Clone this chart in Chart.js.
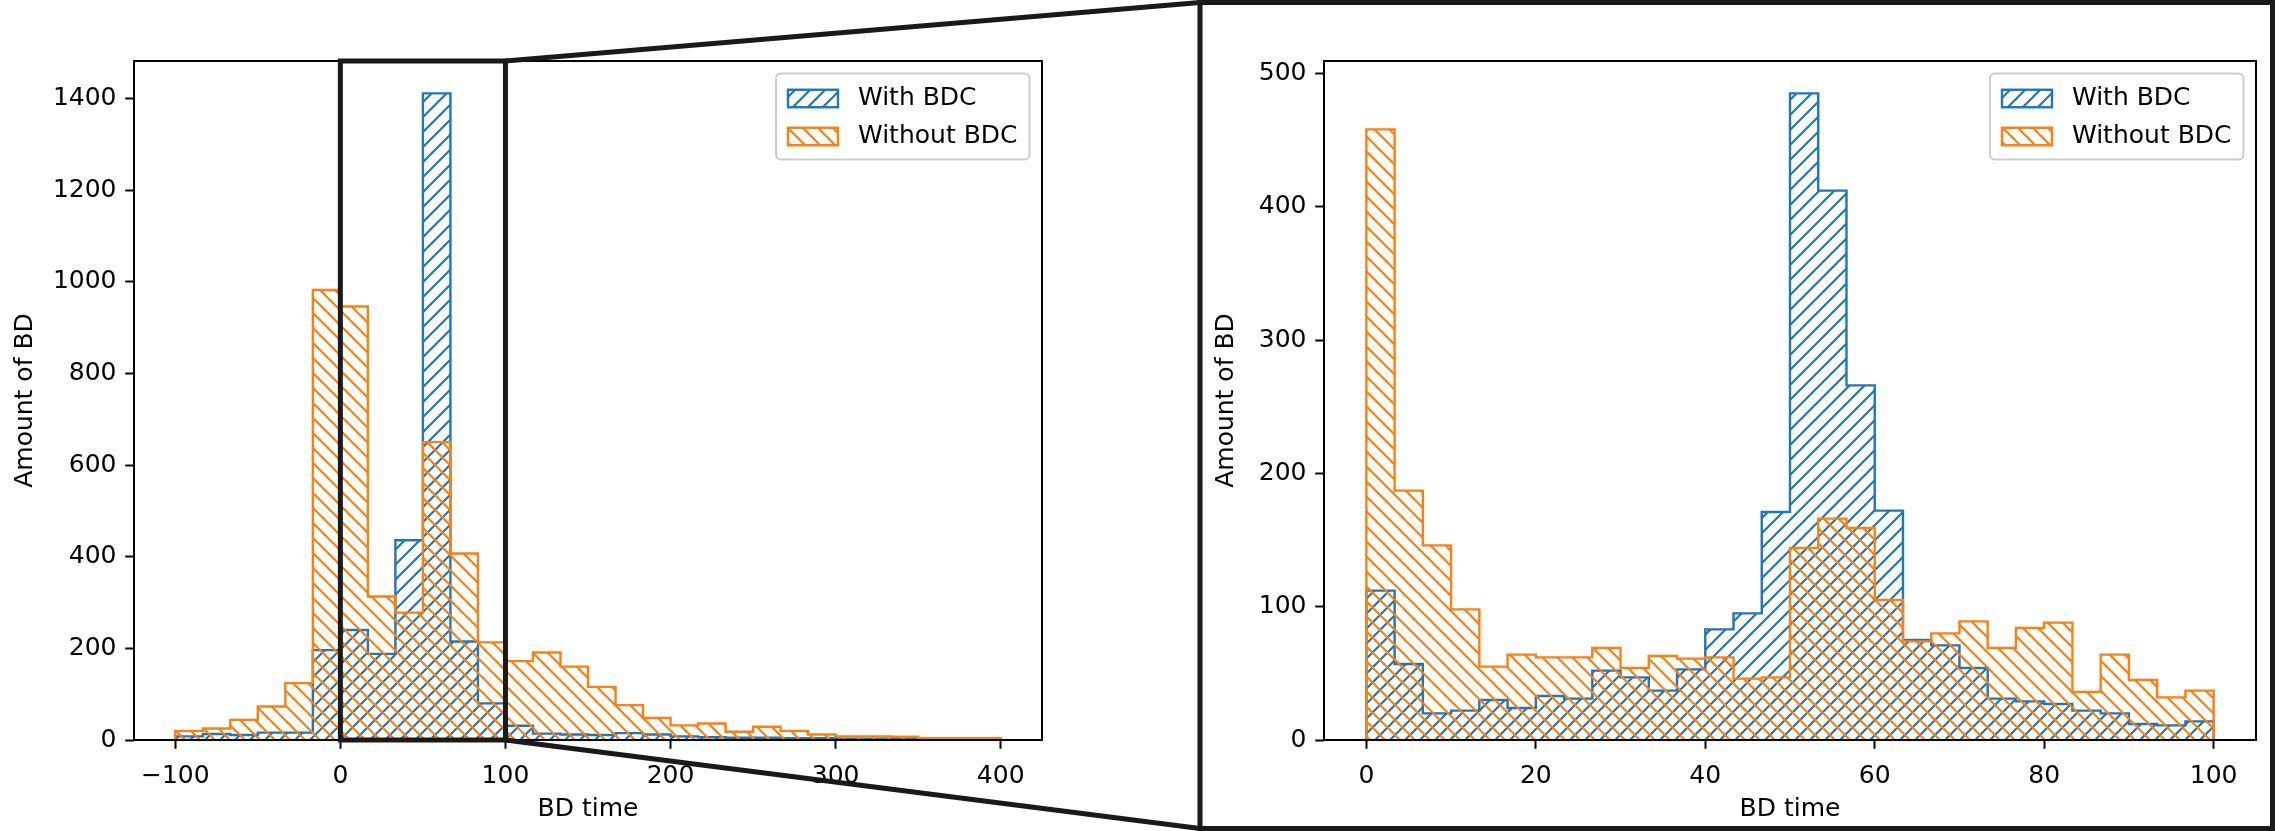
<!DOCTYPE html>
<html>
<head>
<meta charset="utf-8">
<title>BD time histograms</title>
<script src="https://cdn.jsdelivr.net/npm/chart.js@4.4.1/dist/chart.umd.min.js"></script>
<style>
  html, body { margin: 0; padding: 0; background: #ffffff; }
  #wrap { position: relative; width: 2275px; height: 831px; overflow: hidden; background: #ffffff; }
  #wrap canvas { position: absolute; left: 0; top: 0; }
</style>
</head>
<body>
<div id="wrap">
  <canvas id="overview" width="2275" height="831"></canvas>
  <canvas id="detail" width="2275" height="831"></canvas>
</div>
<script>
// ---- Histogram data: breakdown (BD) counts per time bin ----
const seriesLabels = ['With BDC', 'Without BDC'];
const seriesColors = ['#1f77b4', '#ff7f0e'];

// Full range: 30 bins from -100 to 400
const overviewRange = [-100, 400];
const overviewWithBDC = [8, 13, 11, 16, 16, 196, 240, 188, 436, 1411, 215, 80, 31, 14, 12,
                         11, 15, 12, 8, 6, 5, 5, 4, 4, 3, 3, 3, 2, 2, 1];
const overviewWithoutBDC = [20, 25, 44, 73, 124, 982, 946, 313, 278, 650, 407, 213, 172, 191, 160,
                            116, 76, 48, 32, 36, 18, 29, 20, 12, 8, 8, 7, 4, 4, 4];
const overviewXTicks = [-100, 0, 100, 200, 300, 400];
const overviewYTicks = [0, 200, 400, 600, 800, 1000, 1200, 1400];

// Zoomed range: 30 bins from 0 to 100
const detailRange = [0, 100];
const detailWithBDC = [112, 57, 20, 22, 30, 24, 33, 31, 52, 47, 37, 53, 83, 95, 171,
                       485, 412, 266, 172, 75, 71, 54, 31, 29, 27, 22, 20, 12, 11, 14];
const detailWithoutBDC = [458, 187, 146, 98, 55, 64, 62, 62, 69, 54, 63, 61, 62, 46, 47,
                          144, 166, 159, 105, 74, 80, 89, 69, 84, 88, 36, 64, 45, 32, 37];
const detailXTicks = [0, 20, 40, 60, 80, 100];
const detailYTicks = [0, 100, 200, 300, 400, 500];

const xTitle = 'BD time';
const yTitle = 'Amount of BD';

// ---- Styling ----
const FONT_FAMILY = '"DejaVu Sans", "Liberation Sans", sans-serif';
const FONT_SIZE = 25;
const TEXT_COLOR = '#000000';

// Outline of a step histogram as points for a stepped line
function stepPoints(counts, range) {
  const [lo, hi] = range;
  const w = (hi - lo) / counts.length;
  const pts = [{ x: lo, y: 0 }];
  counts.forEach((c, i) => pts.push({ x: lo + i * w, y: c }));
  pts.push({ x: hi, y: counts[counts.length - 1] });
  pts.push({ x: hi, y: 0 });
  return pts;
}

// Diagonal hatch fill ('/' rising, '\\' falling)
function hatchPattern(ctx, color, dir) {
  const s = 15;
  const c = document.createElement('canvas');
  c.width = s; c.height = s;
  const g = c.getContext('2d');
  g.strokeStyle = color;
  g.lineWidth = 2.2;
  g.beginPath();
  if (dir === '/') {
    for (let k = 0; k <= 2; k++) {
      g.moveTo(-2, k * s + 2);
      g.lineTo(s + 2, k * s - s - 2);
    }
  } else {
    for (let k = -1; k <= 1; k++) {
      g.moveTo(-2, k * s - 2);
      g.lineTo(s + 2, k * s + s + 2);
    }
  }
  g.stroke();
  return ctx.createPattern(c, 'repeat');
}

function fmtTick(v) {
  return v < 0 ? '\u2212' + Math.abs(v) : String(v);
}

function makeDatasets(ctx, withCounts, withoutCounts, range) {
  return [
    {
      label: seriesLabels[0],
      data: stepPoints(withCounts, range),
      borderColor: seriesColors[0],
      backgroundColor: hatchPattern(ctx, seriesColors[0], '/'),
      borderWidth: 2.4,
      stepped: 'before',
      fill: 'origin',
      pointRadius: 0,
      order: 2
    },
    {
      label: seriesLabels[1],
      data: stepPoints(withoutCounts, range),
      borderColor: seriesColors[1],
      backgroundColor: hatchPattern(ctx, seriesColors[1], '\\'),
      borderWidth: 2.4,
      stepped: 'before',
      fill: 'origin',
      pointRadius: 0,
      order: 1
    }
  ];
}

// Frame around the plot area plus an inset-style legend
const frameAndLegend = {
  id: 'frameAndLegend',
  afterDatasetsDraw(chart) {
    const ctx = chart.ctx;
    const a = chart.chartArea;
    ctx.save();
    ctx.strokeStyle = '#000000';
    ctx.lineWidth = 2;
    ctx.strokeRect(a.left, a.top, a.right - a.left, a.bottom - a.top);
    ctx.restore();
  },
  afterDraw(chart) {
    const ctx = chart.ctx;
    const a = chart.chartArea;
    const ds = chart.data.datasets;
    ctx.save();
    ctx.font = FONT_SIZE + 'px ' + FONT_FAMILY;
    const tw = Math.max(...ds.map(d => ctx.measureText(d.label).width));
    const pad = 12, hl = 50, hh = 17.5, gap = 20, row = 38;
    const w = pad + hl + gap + tw + pad;
    const h = 86;
    const x0 = a.right - 12.5 - w;
    const y0 = a.top + 12.5;
    ctx.beginPath();
    ctx.roundRect(x0, y0, w, h, 5);
    ctx.fillStyle = 'rgba(255,255,255,0.8)';
    ctx.fill();
    ctx.strokeStyle = '#cccccc';
    ctx.lineWidth = 2;
    ctx.stroke();
    ds.forEach((d, i) => {
      const cy = y0 + 25 + i * row;
      ctx.fillStyle = d.backgroundColor;
      ctx.fillRect(x0 + pad, cy - hh / 2, hl, hh);
      ctx.strokeStyle = d.borderColor;
      ctx.lineWidth = 2.4;
      ctx.strokeRect(x0 + pad, cy - hh / 2, hl, hh);
      ctx.fillStyle = TEXT_COLOR;
      ctx.textBaseline = 'middle';
      ctx.textAlign = 'left';
      ctx.fillText(d.label, x0 + pad + hl + gap, cy);
    });
    ctx.restore();
  }
};

// Zoom indicator: box over [detailRange] on the overview and lines to the detail panel
const zoomIndicator = {
  id: 'zoomIndicator',
  afterDatasetsDraw(chart) {
    const ctx = chart.ctx;
    const xs = chart.scales.x, ys = chart.scales.y;
    const xl = xs.getPixelForValue(detailRange[0]);
    const xr = xs.getPixelForValue(detailRange[1]);
    const yb = ys.getPixelForValue(0);
    const yt = ys.getPixelForValue(ys.max);
    ctx.save();
    ctx.strokeStyle = '#1a1a1a';
    ctx.lineWidth = 5;
    ctx.strokeRect(xl, yt, xr - xl, yb - yt);
    // panel frame on the right
    const fx = 1200, fy = 2.5, fr = 2272.5, fb = 828.5;
    ctx.strokeRect(fx, fy, fr - fx, fb - fy);
    ctx.beginPath();
    ctx.moveTo(xr, yt); ctx.lineTo(fx, fy);
    ctx.moveTo(xr, yb); ctx.lineTo(fx, fb);
    ctx.stroke();
    ctx.restore();
  }
};

function axisOptions(xMin, xMax, xTicks, yMax, yTicks, yAxisWidth, yTitlePad) {
  const font = { family: FONT_FAMILY, size: FONT_SIZE };
  const grid = {
    display: true,
    drawOnChartArea: false,
    drawTicks: true,
    tickLength: 8.75,
    tickWidth: 2,
    tickColor: '#000000',
    color: '#000000'
  };
  return {
    x: {
      type: 'linear',
      min: xMin,
      max: xMax,
      afterBuildTicks: s => { s.ticks = xTicks.map(v => ({ value: v })); },
      afterFit: s => { s.height = 91; },
      ticks: { font, color: TEXT_COLOR, padding: 13, maxRotation: 0, autoSkip: false, callback: fmtTick },
      grid,
      border: { display: false },
      title: { display: true, text: xTitle, font, color: TEXT_COLOR, padding: { top: 0, bottom: 7 } }
    },
    y: {
      type: 'linear',
      min: 0,
      max: yMax,
      afterBuildTicks: s => { s.ticks = yTicks.map(v => ({ value: v })); },
      afterFit: s => { s.width = yAxisWidth; },
      ticks: { font, color: TEXT_COLOR, padding: 8.75, autoSkip: false, callback: fmtTick },
      grid,
      border: { display: false },
      title: { display: true, text: yTitle, font, color: TEXT_COLOR, padding: { top: yTitlePad, bottom: 0 } }
    }
  };
}

function histChart(canvasId, withCounts, withoutCounts, range, xPad, xTicks, yTicks, padding, yAxisWidth, yTitlePad, extraPlugins) {
  const canvas = document.getElementById(canvasId);
  const ctx = canvas.getContext('2d');
  const yMax = Math.max(...withCounts, ...withoutCounts) * 1.05;
  return new Chart(ctx, {
    type: 'line',
    data: { datasets: makeDatasets(ctx, withCounts, withoutCounts, range) },
    options: {
      responsive: false,
      animation: false,
      devicePixelRatio: 1,
      layout: { padding },
      plugins: { legend: { display: false }, tooltip: { enabled: false } },
      elements: { line: { tension: 0 }, point: { radius: 0 } },
      scales: axisOptions(range[0] - xPad, range[1] + xPad, xTicks, yMax, yTicks, yAxisWidth, yTitlePad)
    },
    plugins: [frameAndLegend].concat(extraPlugins)
  });
}

// Overview: full time range, with the zoom indicator
histChart('overview', overviewWithBDC, overviewWithoutBDC, overviewRange, 25,
  overviewXTicks, overviewYTicks, { left: 0, top: 61, right: 1233, bottom: 0 }, 134, 10, [zoomIndicator]);

// Detail: the 0–100 window
histChart('detail', detailWithBDC, detailWithoutBDC, detailRange, 5,
  detailXTicks, detailYTicks, { left: 1200, top: 61, right: 19, bottom: 0 }, 124, 11, []);
</script>
</body>
</html>
